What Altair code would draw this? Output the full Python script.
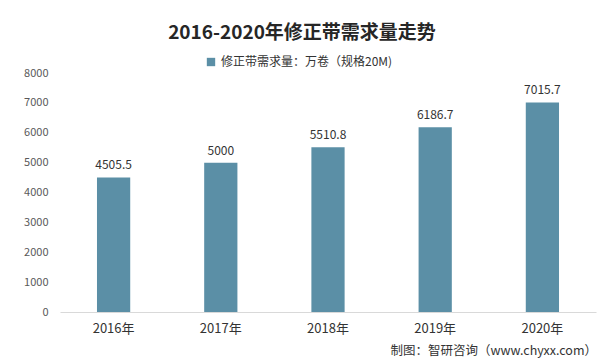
import altair as alt
import pandas as pd

years = ["2016年", "2017年", "2018年", "2019年", "2020年"]
values = [4505.5, 5000, 5510.8, 6186.7, 7015.7]
labels = ["4505.5", "5000", "5510.8", "6186.7", "7015.7"]
series_name = "修正带需求量：万卷（规格20M)"
y_ticks = [0, 1000, 2000, 3000, 4000, 5000, 6000, 7000, 8000]
footer_text = "制图：智研咨询（www.chyxx.com）"

df = pd.DataFrame({"year": years, "value": values, "label": labels, "series": [series_name] * len(years)})

FONT = "Noto Sans CJK SC"
BAR = "#5b8fa6"

x_enc = alt.X("year:N", sort=years, title=None,
              scale=alt.Scale(paddingInner=0.69, paddingOuter=0.345),
              axis=alt.Axis(labelAngle=0, labelFontSize=13, labelColor="#333333",
                            labelFont=FONT, ticks=False, domainColor="#d9d9d9",
                            labelPadding=10))
y_enc = alt.Y("value:Q", title=None,
              scale=alt.Scale(domain=[0, 8000]),
              axis=alt.Axis(values=y_ticks, tickCount=9, format="d", labelOverlap=False,
                            grid=False, domain=False, ticks=False,
                            labelFontSize=11, labelColor="#595959", labelFont=FONT,
                            labelPadding=12))

base = alt.Chart(df)

bars = base.mark_bar(color=BAR).encode(
    x=x_enc,
    y=y_enc,
    color=alt.Color("series:N", scale=alt.Scale(range=[BAR]),
                    legend=alt.Legend(title=None, orient="none", legendX=145, legendY=-17,
                                      symbolType="square", symbolSize=70, labelLimit=0,
                                      labelFontSize=12, labelColor="#333333", labelFont=FONT)),
)

text = base.mark_text(dy=-12, fontSize=12, color="#333333", font=FONT).encode(
    x=x_enc,
    y=y_enc,
    text="label:N",
)

footer = base.transform_filter(alt.datum.year == years[-1]).mark_text(
    align="right", fontSize=12.5, color="#333333", font=FONT
).encode(
    x=alt.value(537), y=alt.value(278), text=alt.value(footer_text)
)

chart = alt.layer(bars, text, footer).properties(
    width=536, height=239,
    autosize=alt.AutoSizeParams(type="none"),
    padding={"left": 52, "top": 65, "right": 1, "bottom": 52},
    title=alt.Title("2016-2020年修正带需求量走势", fontSize=19, font=FONT, fontWeight="bold",
                    color="#262626", anchor="middle", dx=-26, offset=13),
    background="white",
).configure_view(stroke=None)

chart.save("out.html", embed_options={"renderer": "svg", "actions": False})
